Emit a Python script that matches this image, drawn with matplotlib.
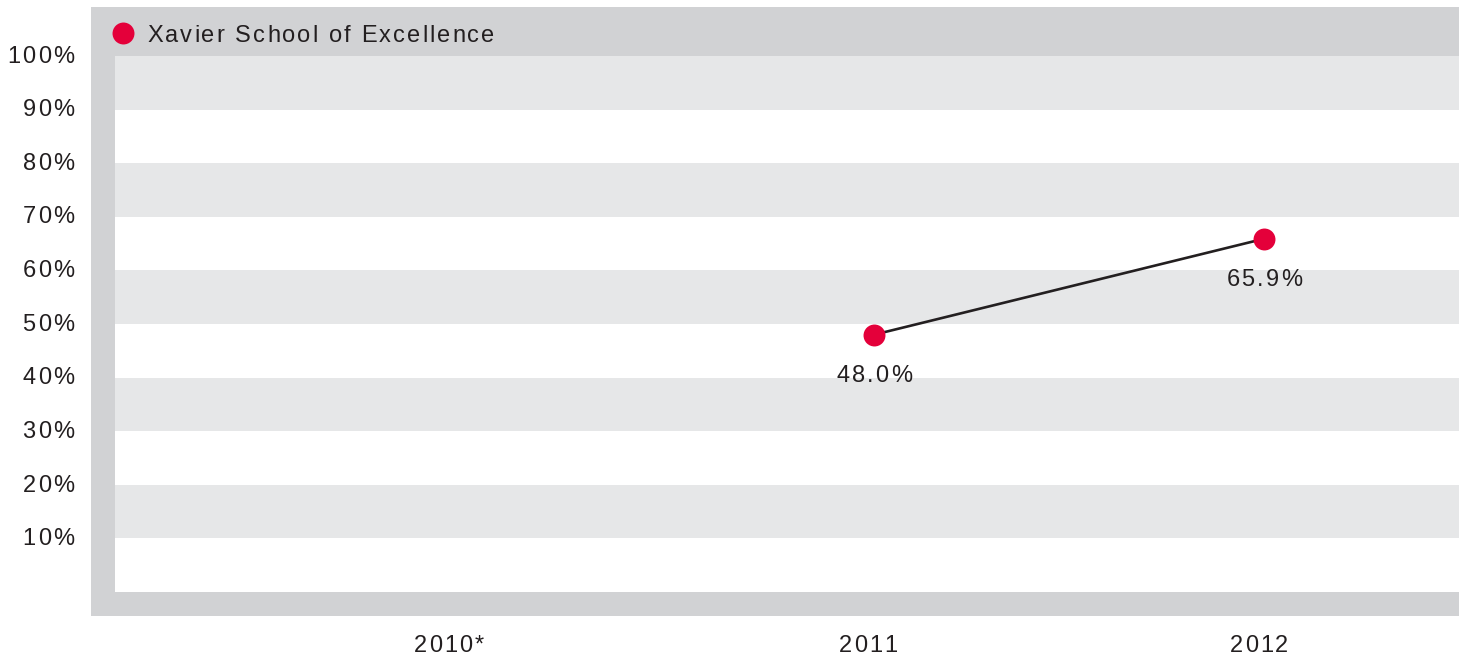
import numpy as np
import matplotlib
matplotlib.use("Agg")
import matplotlib.pyplot as plt
from matplotlib.patches import Rectangle
from matplotlib.font_manager import FontProperties, findfont
from matplotlib.ft2font import FT2Font

# ---- data ----
categories = ["2010*", "2011", "2012"]
values = [np.nan, 48.0, 65.9]
value_labels = ["", "48.0%", "65.9%"]
series_name = "Xavier School of Excellence"
y_ticks = [10, 20, 30, 40, 50, 60, 70, 80, 90, 100]
y_tick_labels = [f"{t}%" for t in y_ticks]

# ---- style ----
W, H = 1465, 658
DPI = 100
FRAME = "#d1d2d4"
BAND = "#e6e7e8"
RED = "#e4003a"
TXT = "#231f20"
FAMILY = "Liberation Sans"
FS = 17.0            # points
TRACK = 2.1          # extra pixels between characters

plt.rcParams["font.family"] = [FAMILY, "DejaVu Sans"]

fig = plt.figure(figsize=(W / DPI, H / DPI), dpi=DPI)

_ft = FT2Font(findfont(FontProperties(family=FAMILY)))
_ft.set_size(FS, DPI)


def advance(ch):
    g = _ft.load_char(ord(ch))
    return g.linearHoriAdvance / 65536.0


def tracked(xpix, ypix_top, s, ha="left"):
    """Draw text with letter spacing; xpix = anchor x, ypix_top = baseline (pixels from top)."""
    advs = [advance(c) for c in s]
    total = sum(advs) + TRACK * (len(s) - 1)
    x0 = xpix - total * {"left": 0.0, "center": 0.5, "right": 1.0}[ha]
    for c, a in zip(s, advs):
        if c != " ":
            fig.text(x0 / W, 1 - ypix_top / H, c, ha="left", va="baseline",
                     fontsize=FS, color=TXT, family=FAMILY, zorder=6)
        x0 += a + TRACK


def fig_rect(x0, y0, x1, y1, color, z=0):
    fig.add_artist(Rectangle((x0 / W, 1 - y1 / H), (x1 - x0) / W, (y1 - y0) / H,
                             transform=fig.transFigure, facecolor=color,
                             edgecolor="none", zorder=z))


# grey frame (top band, left band, bottom band)
fig_rect(91, 7, 1459, 56, FRAME)
fig_rect(91, 7, 115, 616, FRAME)
fig_rect(91, 592, 1459, 616, FRAME)

ax = fig.add_axes([115 / W, 1 - 592 / H, (1459 - 115) / W, (592 - 56) / H])
ax.set_facecolor("white")
ax.set_ylim(0, 100)
ax.set_xlim(-0.946, 2.5)

for lo in range(10, 100, 20):
    ax.axhspan(lo, lo + 10, color=BAND, lw=0, zorder=0)

x = np.arange(len(categories))
ax.plot(x, values, color=TXT, lw=1.9, zorder=2)
ax.plot(x, values, "o", color=RED, ms=15.8, mec="none", zorder=3)

for s in ax.spines.values():
    s.set_visible(False)
ax.set_xticks([])
ax.set_yticks([])


def to_px(xd, yd):
    px, py = ax.transData.transform((xd, yd))
    return px, H - py   # pixels from top


# value labels under points
for xi, v, lab in zip(x, values, value_labels):
    if lab:
        px, py = to_px(xi, v)
        tracked(px, py + 47.3, lab, ha="center")

# y tick labels
ax_left_px = to_px(ax.get_xlim()[0], 0)[0]
for t, lab in zip(y_ticks, y_tick_labels):
    _, py = to_px(0, t)
    tracked(ax_left_px - 41, py + 6.7, lab, ha="right")

# category labels below the frame
x_offsets = [-35, -6, -5]
for xi, cat, dx in zip(x, categories, x_offsets):
    px, py = to_px(xi, 0)
    tracked(px + dx, py + 59.7, cat, ha="center")

# legend in top band
fig.add_artist(plt.Line2D([123 / W], [1 - 33 / H], marker="o", color=RED, ms=15.8,
                          mec="none", transform=fig.transFigure, zorder=5))
tracked(147, 42, series_name, ha="left")

fig.savefig("out.png", dpi=DPI)
